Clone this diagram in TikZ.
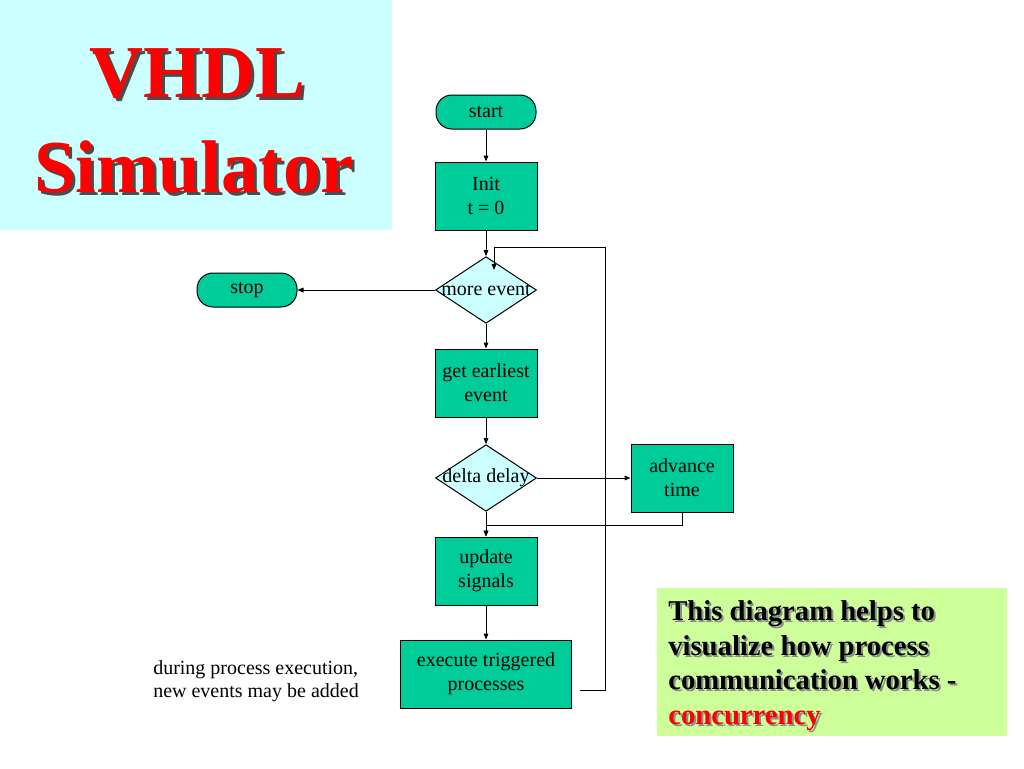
\documentclass[tikz,border=0pt]{standalone}
\usepackage{fontspec}
\setmainfont{Liberation Serif}
\usetikzlibrary{shapes.geometric,arrows.meta}
\definecolor{boxteal}{RGB}{0,204,153}
\definecolor{paleblue}{RGB}{204,255,255}
\definecolor{palegreen}{RGB}{204,255,153}
\definecolor{titlered}{RGB}{255,0,0}
% text with a drop shadow: offset, shadow colour, text
\newcommand{\shadedtext}[3]{\makebox[0pt][l]{\hspace*{#1}\raisebox{-#1}{\textcolor{#2}{#3}}}#3}

\begin{document}
\begin{tikzpicture}[x=0.75pt,y=-0.75pt,
    stepbox/.style={draw,fill=boxteal,line width=0.75pt,minimum width=76.5pt,
        minimum height=51pt,inner sep=0pt,align=center,font=\fontsize{15}{18}\selectfont},
    endbox/.style={draw,fill=boxteal,line width=0.75pt,rounded corners=12pt,
        minimum width=75pt,minimum height=25.5pt,inner sep=0pt,font=\fontsize{15}{18}\selectfont},
    testbox/.style={diamond,draw,fill=paleblue,line width=0.75pt,minimum width=75.75pt,
        minimum height=50pt,inner sep=0pt,
        label={[font=\fontsize{15}{18}\selectfont,inner sep=0pt]center:#1}},
    flow/.style={-{Triangle[length=4.5pt,width=3.5pt]},line width=0.75pt}]

    % Page
    \fill [white] (0,0) rectangle (1024,768);

    % Title panel
    \fill [paleblue] (0,0) rectangle (392,230);
    \node [anchor=base,text=titlered,font=\fontsize{56}{60}\selectfont\bfseries] (vhdl)
        at (197,97) {\shadedtext{2.25pt}{black!70}{VHDL}};
    \node [anchor=base,text=titlered,font=\fontsize{56}{60}\selectfont\bfseries] (sim)
        at (194,192) {\shadedtext{2.25pt}{black!70}{Simulator}};

    % Flow boxes
    \node [endbox] (start) at (486,112) {start};
    \node [stepbox] (init) at (486,196) {Init\\t = 0};
    \node [testbox={more event}] (more) at (486,290) {};
    \node [endbox] (stop) at (247,290) {stop};
    \node [stepbox] (earliest) at (486,383) {get earliest\\event};
    \node [testbox={delta delay}] (delta) at (486,478) {};
    \node [stepbox] (advance) at (682,478) {advance\\time};
    \node [stepbox] (update) at (486,571) {update\\signals};
    \node [stepbox,minimum width=128.25pt] (exec) at (486,674) {execute triggered\\processes};

    % Loop helpers (imaginary)
    \coordinate (looptop) at (605,247);
    \coordinate (loopend) at (494,270);

    % Connectors
    \draw [flow] (start) -- (init);
    \draw [flow] (init) -- (more);
    \draw [flow] (more.west) -- (stop);
    \draw [flow] (more) -- (earliest);
    \draw [flow] (earliest) -- (delta);
    \draw [flow] (delta.east) -- (advance);
    \draw [flow] (delta.south) -- (update);
    \draw [flow] (advance.south) -- ++(0,13) -| (update.north);
    \draw [flow] (update) -- (exec);
    \draw [flow] ([xshift=6pt,yshift=-12pt]exec.east) -| (looptop) -| (loopend);

    % Side note
    \node [anchor=north west,align=left,inner sep=0pt,font=\fontsize{15}{17.5}\selectfont] (note)
        at (153,660) {during process execution,\\new events may be added};

    % Summary panel
    \fill [palegreen] (657,588) rectangle (1007,736);
    \node [anchor=north west,align=left,inner sep=0pt,
        font=\fontsize{21.5}{25.9}\selectfont\bfseries] (summary) at (668,600.5)
        {\shadedtext{1.5pt}{black!45}{This diagram helps to}\\
         \shadedtext{1.5pt}{black!45}{visualize how process}\\
         \shadedtext{1.5pt}{black!45}{communication works -}\\
         \textcolor{titlered}{\shadedtext{1.5pt}{black!45}{concurrency}}};
\end{tikzpicture}
\end{document}
